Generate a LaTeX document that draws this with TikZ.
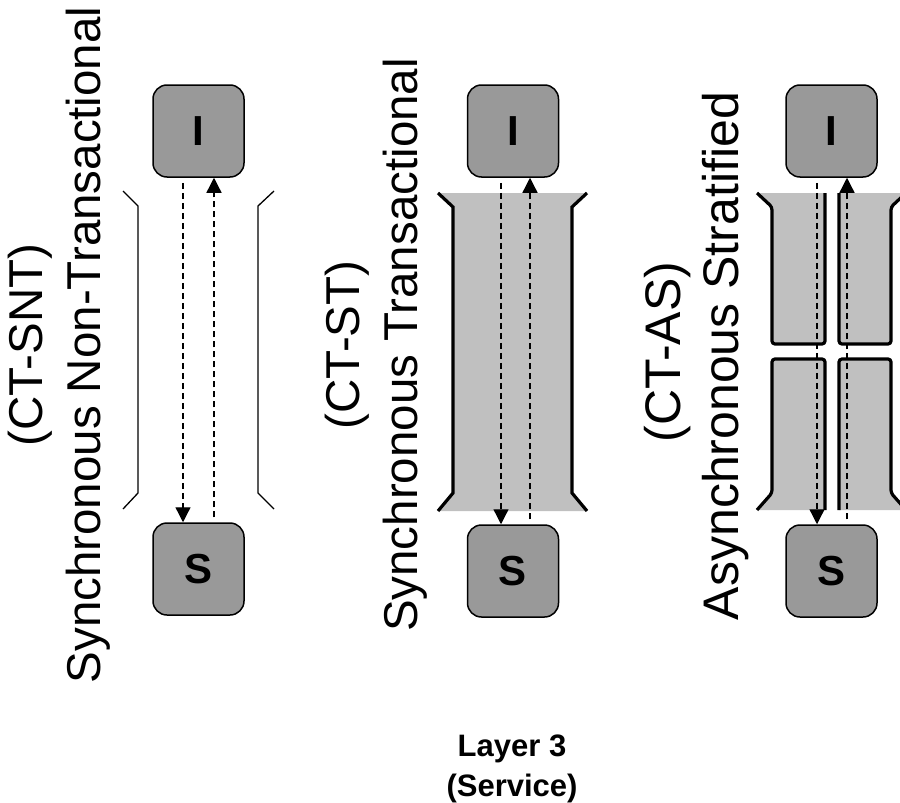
\documentclass[tikz,border=0pt]{standalone}
\usepackage{fontspec}
\setmainfont{Liberation Sans}
\usetikzlibrary{arrows.meta}
\definecolor{boxgray}{HTML}{999999}
\definecolor{bandgray}{HTML}{C0C0C0}
\tikzset{
  endpoint/.style={draw=black, fill=boxgray, line width=1.5pt, rounded corners=14pt,
    minimum width=91pt, minimum height=92pt, inner sep=0pt,
    font=\fontsize{42}{50}\selectfont\bfseries},
  flow/.style={line width=1.3pt, dash pattern=on 6pt off 4pt,
    -{Triangle[length=15pt,width=15pt]}},
  thinwall/.style={line width=1.3pt},
  thickwall/.style={line width=3.2pt, line join=miter},
  bandfill/.style={fill=bandgray, draw=none},
  caption/.style={rotate=90, anchor=base, inner sep=0pt,
    font=\fontsize{47.5}{58}\selectfont},
  layerlabel/.style={anchor=base, inner sep=0pt,
    font=\fontsize{31}{40}\selectfont\bfseries}
}
\begin{document}
\begin{tikzpicture}[x=1pt,y=-1pt]
\useasboundingbox (0,0) rectangle (900,803);
\clip (0,0) rectangle (900,803);

% ---------- captions ----------
\node[caption] (capA1) at (42,345) {(CT-SNT)};
\node[caption] (capA2) at (100,345) {Synchronous Non-Transactional};
\node[caption] (capB1) at (359,345) {(CT-ST)};
\node[caption] (capB2) at (417,345) {Synchronous Transactional};
\node[caption, font=\fontsize{50}{60}\selectfont] (capC1) at (680,352) {(CT-AS)};
\node[caption, font=\fontsize{50}{60}\selectfont] (capC2) at (738,356) {Asynchronous Stratified};

% ---------- panel 2: transactional band ----------
\fill[bandfill] (438,193) -- (453,207) -- (453,493) -- (438,511)
  -- (587,511) -- (572,493) -- (572,207) -- (587,193) -- cycle;
\draw[thickwall] (438,193) -- (453,207) -- (453,493) -- (438,511);
\draw[thickwall] (587,193) -- (572,207) -- (572,493) -- (587,511);

% ---------- panel 3: stratified blocks ----------
\fill[bandfill] (757,193) -- (772,207) -- (772,344) -- (825,344) -- (825,193) -- cycle;
\fill[bandfill] (757,510) -- (772,493) -- (772,359) -- (825,359) -- (825,510) -- cycle;
\fill[bandfill] (906,193) -- (891,207) -- (891,344) -- (839,344) -- (839,193) -- cycle;
\fill[bandfill] (906,510) -- (891,493) -- (891,359) -- (839,359) -- (839,510) -- cycle;
\begin{scope}[thickwall]
  \draw[rounded corners=3pt] (757,193) -- (772,207) -- (772,344) -- (825,344) -- (825,193);
  \draw[rounded corners=3pt] (757,510) -- (772,493) -- (772,359) -- (825,359) -- (825,510);
  \draw[rounded corners=3pt] (906,193) -- (891,207) -- (891,344) -- (839,344) -- (839,193);
  \draw[rounded corners=3pt] (906,510) -- (891,493) -- (891,359) -- (839,359) -- (839,510);
\end{scope}

% ---------- panel 1: non-transactional brackets ----------
\draw[thinwall] (123,191) -- (138,206) -- (138,493) -- (123,509);
\draw[thinwall] (274,191) -- (258,206) -- (258,493) -- (274,509);

% ---------- endpoints ----------
\node[endpoint] (I1) at (198.5,131) {I};
\node[endpoint] (S1) at (198.5,569) {S};
\node[endpoint] (I2) at (513,131) {I};
\node[endpoint] (S2) at (513,571) {S};
\node[endpoint] (I3) at (831.5,131) {I};
\node[endpoint] (S3) at (831.5,571) {S};

% ---------- request / reply flows ----------
\draw[flow] ([xshift=-15.5pt,yshift=-5pt]I1.south) -- ([xshift=-15.5pt]S1.north);
\draw[flow] ([xshift=15.5pt,yshift=5pt]S1.north) -- ([xshift=15.5pt]I1.south);
\draw[flow] ([xshift=-12pt,yshift=-5pt]I2.south) -- ([xshift=-12pt]S2.north);
\draw[flow] ([xshift=17pt,yshift=5pt]S2.north) -- ([xshift=17pt]I2.south);
\draw[flow] ([xshift=-14.5pt,yshift=-5pt]I3.south) -- ([xshift=-14.5pt]S3.north);
\draw[flow] ([xshift=15.5pt,yshift=5pt]S3.north) -- ([xshift=15.5pt]I3.south);

% ---------- layer label ----------
\node[layerlabel] (layer) at (512,756) {Layer 3};
\node[layerlabel] (service) at (512,796) {(Service)};
\end{tikzpicture}
\end{document}
